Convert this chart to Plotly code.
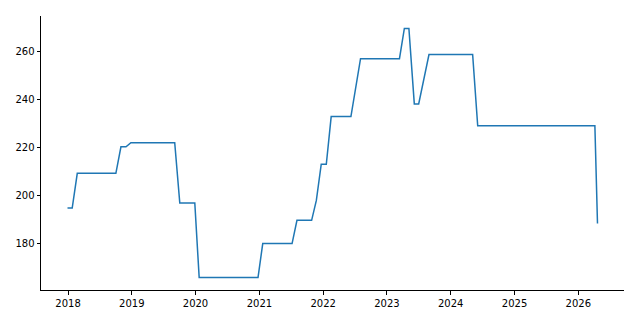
import pandas as pd
import plotly.graph_objects as go

dates = [
    "2017-12-29", "2018-01-25", "2018-02-23", "2018-10-02", "2018-10-31",
    "2018-11-29", "2018-12-27", "2019-09-04", "2019-10-03", "2019-12-28",
    "2020-01-22", "2020-12-24", "2021-01-20", "2021-07-07", "2021-08-04",
    "2021-10-27", "2021-11-23", "2021-12-21", "2022-01-19", "2022-02-16",
    "2022-06-09", "2022-07-06", "2022-08-03", "2023-03-14", "2023-04-11",
    "2023-05-07", "2023-06-07", "2023-07-02", "2023-08-30", "2024-05-06",
    "2024-06-04", "2026-04-06", "2026-04-21",
]
values = [
    194.7, 194.7, 209.2, 209.2, 220.3,
    220.3, 222.0, 222.0, 196.8, 196.8,
    165.7, 165.7, 179.9, 179.9, 189.6,
    189.6, 197.9, 213.0, 213.0, 232.9,
    232.9, 245.0, 257.1, 257.1, 269.7,
    269.7, 238.2, 238.2, 258.8, 258.8,
    229.1, 229.1, 188.3,
]
y_ticks = [180, 200, 220, 240, 260]

x = pd.to_datetime(dates)
xpad = (x.max() - x.min()) * 0.05
ypad = (max(values) - min(values)) * 0.05

fig = go.Figure(go.Scatter(
    x=x, y=values, mode="lines",
    line=dict(color="#1f77b4", width=1.5),
    hoverinfo="skip",
))

axis_common = dict(
    showline=True, linecolor="black", linewidth=1,
    ticks="outside", ticklen=3.5, tickwidth=0.8, tickcolor="black",
    showgrid=False, zeroline=False,
    tickfont=dict(family="DejaVu Sans", size=10, color="black"),
)

fig.update_layout(
    width=640, height=320,
    margin=dict(l=41, r=16, t=16, b=30),
    paper_bgcolor="white", plot_bgcolor="white",
    showlegend=False,
    xaxis=dict(
        type="date",
        range=[x.min() - xpad, x.max() + xpad],
        dtick="M12", tick0="2018-01-01", tickformat="%Y",
        **axis_common,
    ),
    yaxis=dict(
        range=[min(values) - ypad, max(values) + ypad],
        tickvals=y_ticks,
        ticktext=[str(v) for v in y_ticks],
        **axis_common,
    ),
)

fig.write_html("out.html")
